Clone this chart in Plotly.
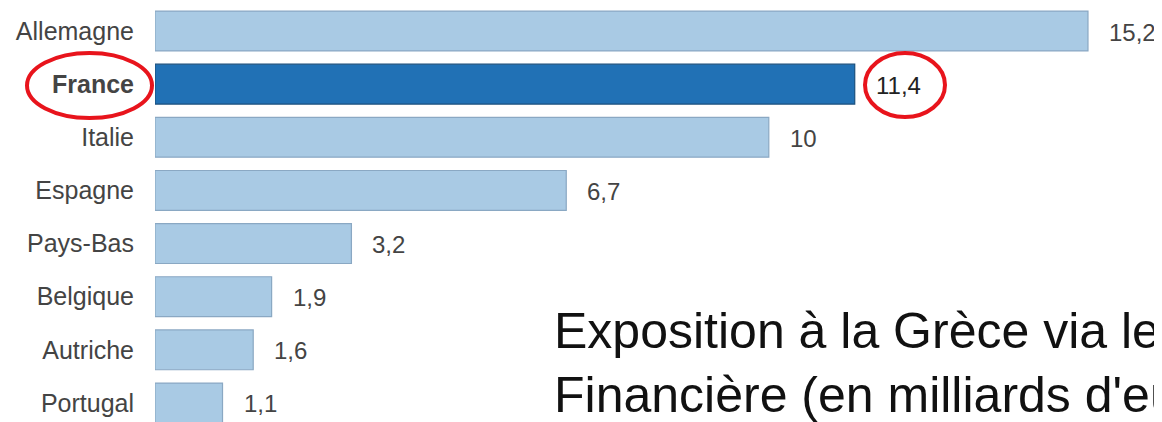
import plotly.graph_objects as go

countries = ["Allemagne", "France", "Italie", "Espagne", "Pays-Bas", "Belgique", "Autriche", "Portugal"]
values = [15.2, 11.4, 10, 6.7, 3.2, 1.9, 1.6, 1.1]
value_labels = ["15,2", "11,4", "10", "6,7", "3,2", "1,9", "1,6", "1,1"]
highlight = "France"
title_lines = ["Exposition à la Grèce via le Fonds Européen de Stabilité",
               "Financière (en milliards d'euros)"]

OFF = 8  # page body margin
W, H = 1162 - OFF, 422 - OFF
L = 155 - OFF
PW = W - L
PX_PER_UNIT = 61.38
xmax = PW / PX_PER_UNIT

row0, step = 31 - OFF, 53.14
ytop = -row0 / step
ybot = (H - row0) / step

light, light_line = "#a9cae4", "#8aa8c3"
dark, dark_line = "#2171b5", "#1a4f7d"

colors = [dark if c == highlight else light for c in countries]
lines = [dark_line if c == highlight else light_line for c in countries]

fig = go.Figure()
fig.add_trace(go.Bar(
    x=values, y=countries, orientation="h", width=0.75,
    marker=dict(color=colors, line=dict(color=lines, width=1.2)),
    hoverinfo="skip",
))

for c, v, t in zip(countries, values, value_labels):
    fig.add_annotation(x=v, y=c, text=t, showarrow=False, xanchor="left",
                       xshift=19, yshift=-1,
                       font=dict(family="Liberation Sans", size=24,
                                 color="#222" if c == highlight else "#444"))

ticktext = [f"<b>{c}</b>" if c == highlight else c for c in countries]

def px(xp):
    return (xp - OFF - L) / PW

def py(yp):
    return 1 - (yp - OFF) / H

# red ellipses
fig.add_shape(type="circle", xref="paper", yref="paper",
              x0=px(27), x1=px(152), y0=py(118), y1=py(53),
              line=dict(color="#e8141c", width=4))
fig.add_shape(type="circle", xref="paper", yref="paper",
              x0=px(865), x1=px(945), y0=py(117), y1=py(53),
              line=dict(color="#e8141c", width=4))

fig.add_annotation(xref="paper", yref="paper", x=px(552), y=py(331),
                   text=title_lines[0], showarrow=False, xanchor="left", yanchor="middle",
                   font=dict(family="Liberation Sans", size=50, color="#111"))
fig.add_annotation(xref="paper", yref="paper", x=px(552), y=py(395),
                   text=title_lines[1], showarrow=False, xanchor="left", yanchor="middle",
                   font=dict(family="Liberation Sans", size=50, color="#111"))

fig.update_layout(
    width=W, height=H,
    margin=dict(l=L, r=0, t=0, b=0),
    paper_bgcolor="white", plot_bgcolor="white",
    showlegend=False,
    xaxis=dict(range=[0, xmax], visible=False),
    yaxis=dict(range=[ybot, ytop], tickmode="array", tickvals=countries, ticktext=ticktext,
               showgrid=False, zeroline=False, showline=False, ticks="",
               ticklabelstandoff=20,
               tickfont=dict(family="Liberation Sans", size=25, color="#444")),
)

fig.write_html("out.html")
